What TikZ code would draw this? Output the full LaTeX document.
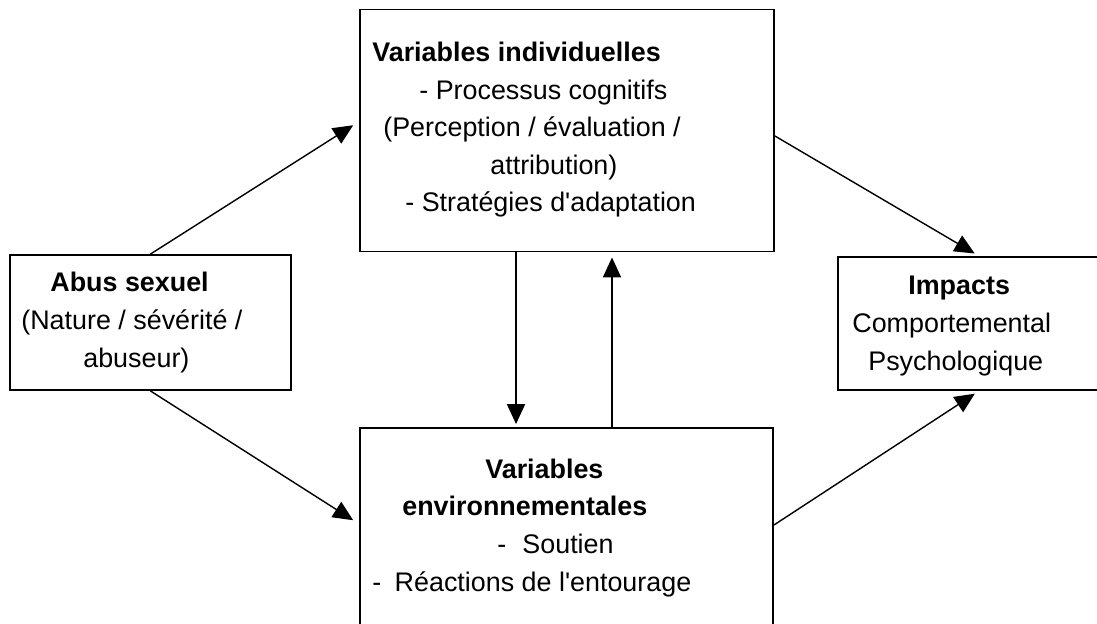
\documentclass[tikz,border=0pt]{standalone}
\usepackage{fontspec}
\setmainfont{Liberation Sans}
\usetikzlibrary{arrows.meta}

\begin{document}
\begin{tikzpicture}[x=0.02cm, y=-0.02cm,
        box/.style={draw, line width=1.1pt, inner sep=0},
        txt/.style={anchor=base west, inner sep=0, font=\fontsize{15.3pt}{18pt}\selectfont},
        hd/.style={txt, font=\fontsize{15.3pt}{18pt}\selectfont\bfseries},
        conn/.style={line width=0.8pt, -{Triangle[length=0.4cm, width=0.36cm]}},
        vconn/.style={conn, line width=1.1pt}]
        \useasboundingbox (0,0) rectangle (1097,624);
        \clip (0,0) rectangle (1097,624);
        % boxes
        \node[box, minimum width=8.28cm, minimum height=4.84cm] (indiv) at (567,130.5) {};
        \node[box, minimum width=5.62cm, minimum height=2.7cm] (abus) at (150.5,322.5) {};
        \node[box, minimum width=5.64cm, minimum height=2.66cm] (impacts) at (979,323.5) {};
        \node[box, minimum width=8.26cm, minimum height=4.64cm] (envir) at (566.5,544) {};
        % individual variables
        \node[hd] (indivT) at (372,62) {Variables individuelles};
        \node[txt] (indivA) at (419,100) {- Processus cognitifs};
        \node[txt] (indivB) at (383,137) {(Perception / évaluation /};
        \node[txt] (indivC) at (490,175) {attribution)};
        \node[txt] (indivD) at (405,212) {- Stratégies d\textquotesingle adaptation};
        % sexual abuse
        \node[hd] (abusT) at (50,292) {Abus sexuel};
        \node[txt] (abusA) at (21,330) {(Nature / sévérité /};
        \node[txt] (abusB) at (83,367) {abuseur)};
        % impacts
        \node[hd] (impT) at (908,295) {Impacts};
        \node[txt] (impA) at (852,333) {Comportemental};
        \node[txt] (impB) at (868,370) {Psychologique};
        % environmental variables
        \node[hd] (envirT) at (485,478) {Variables};
        \node[hd] (envirU) at (402,515) {environnementales};
        \node[txt] (envirA) at (497,553) {-\hspace{0.6em}Soutien};
        \node[txt] (envirB) at (372,591) {-\hspace{0.5em}Réactions de l\textquotesingle entourage};
        % connectors
        \draw[conn, shorten >=0.14cm] (abus.north) -- ([yshift=0.18cm]indiv.west);
        \draw[conn, shorten >=0.14cm] (abus.south) -- ([yshift=0.4cm]envir.west);
        \draw[conn, shorten >=0.1cm] ([yshift=-0.11cm]indiv.east) -- (impacts.north);
        \draw[conn, shorten >=0.1cm] ([yshift=0.38cm]envir.east) -- (impacts.south);
        \draw[vconn, shorten >=0.06cm] ([xshift=-1.02cm]indiv.south) coordinate (dn) -- (dn |- envir.north);
        \draw[vconn, shorten >=0.1cm] ([xshift=0.91cm]envir.north) coordinate (up) -- (up |- indiv.south);
    \end{tikzpicture}
\end{document}
